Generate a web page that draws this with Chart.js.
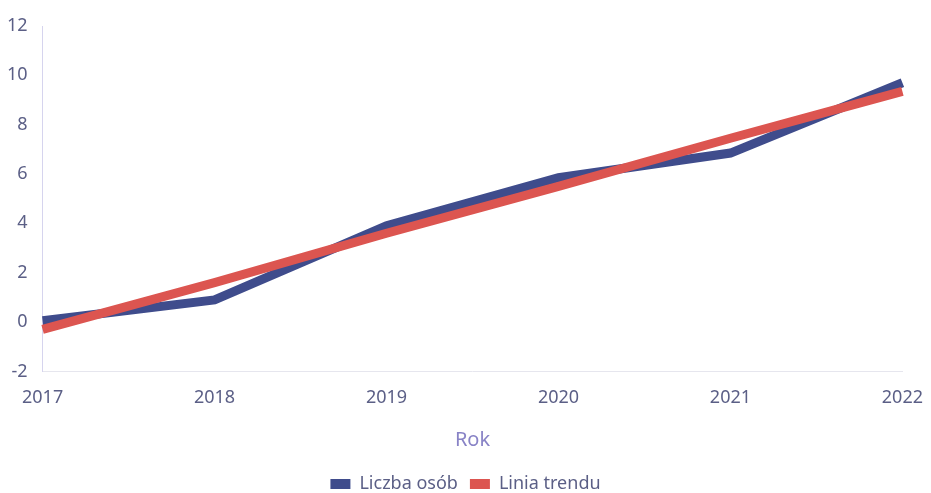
<!DOCTYPE html>
<html lang="pl">
<head>
    <meta charset="UTF-8">
    <title>Liczba osób - linia trendu</title>
    <script src="https://cdn.jsdelivr.net/npm/chart.js"></script>
    <style>
        html, body { margin: 0; padding: 0; background: #ffffff; }
        .chart-container { position: relative; width: 931px; height: 493px; }
    </style>
</head>
<body>
    <div class="chart-container">
        <canvas id="trendChart"></canvas>
    </div>

    <script>
        // Dane
        var lata = ['2017', '2018', '2019', '2020', '2021', '2022'];
        var liczbaOsob = [0.05, 0.9, 3.9, 5.85, 6.85, 9.7];
        var liniaTrendu = [-0.3, 1.6, 3.6, 5.5, 7.45, 9.35];
        var yTicks = [-2, 0, 2, 4, 6, 8, 10, 12];

        var textColor = '#5b5f86';
        var fontFamily = '"Noto Sans", sans-serif';

        var config = {
            type: 'line',
            data: {
                labels: lata,
                datasets: [{
                    label: 'Liczba osób',
                    data: liczbaOsob,
                    borderColor: '#3f4c8c',
                    backgroundColor: '#3f4c8c',
                    borderWidth: 9,
                    pointRadius: 0,
                    tension: 0,
                    fill: false,
                    order: 1
                }, {
                    label: 'Linia trendu',
                    data: liniaTrendu,
                    borderColor: '#dc5550',
                    backgroundColor: '#dc5550',
                    borderWidth: 9,
                    pointRadius: 0,
                    tension: 0,
                    fill: false,
                    order: 0 // czerwona linia na wierzchu
                }]
            },
            options: {
                responsive: true,
                maintainAspectRatio: false,
                animation: false,
                layout: {
                    padding: { top: 26, right: 0, left: 0, bottom: -10 }
                },
                plugins: {
                    legend: {
                        position: 'bottom',
                        labels: {
                            boxWidth: 20,
                            boxHeight: 10,
                            color: textColor,
                            font: { family: fontFamily, size: 18 },
                            padding: 12,
                            sort: function (a, b) { return a.datasetIndex - b.datasetIndex; },
                            generateLabels: function (chart) {
                                var items = Chart.defaults.plugins.legend.labels.generateLabels(chart);
                                items.forEach(function (it) { it.lineWidth = 0; });
                                return items;
                            }
                        }
                    },
                    tooltip: { enabled: false }
                },
                scales: {
                    x: {
                        offset: false,
                        grid: { display: false },
                        border: { display: true, color: '#e6e6ee' },
                        ticks: {
                            color: textColor,
                            font: { family: fontFamily, size: 18 },
                            maxRotation: 0,
                            padding: 8
                        },
                        title: {
                            display: true,
                            text: 'Rok',
                            color: '#8883c6',
                            font: { family: fontFamily, size: 20 },
                            padding: { top: 11, bottom: 11 }
                        }
                    },
                    y: {
                        min: -2,
                        max: 12,
                        afterBuildTicks: function (axis) {
                            axis.ticks = yTicks.map(function (v) { return { value: v }; });
                        },
                        grid: { display: false },
                        border: { display: true, color: '#d6d4ee' },
                        ticks: {
                            color: textColor,
                            font: { family: fontFamily, size: 18 },
                            padding: 7
                        }
                    }
                }
            }
        };

        var trendChart = new Chart(document.getElementById('trendChart'), config);
    </script>
</body>
</html>
